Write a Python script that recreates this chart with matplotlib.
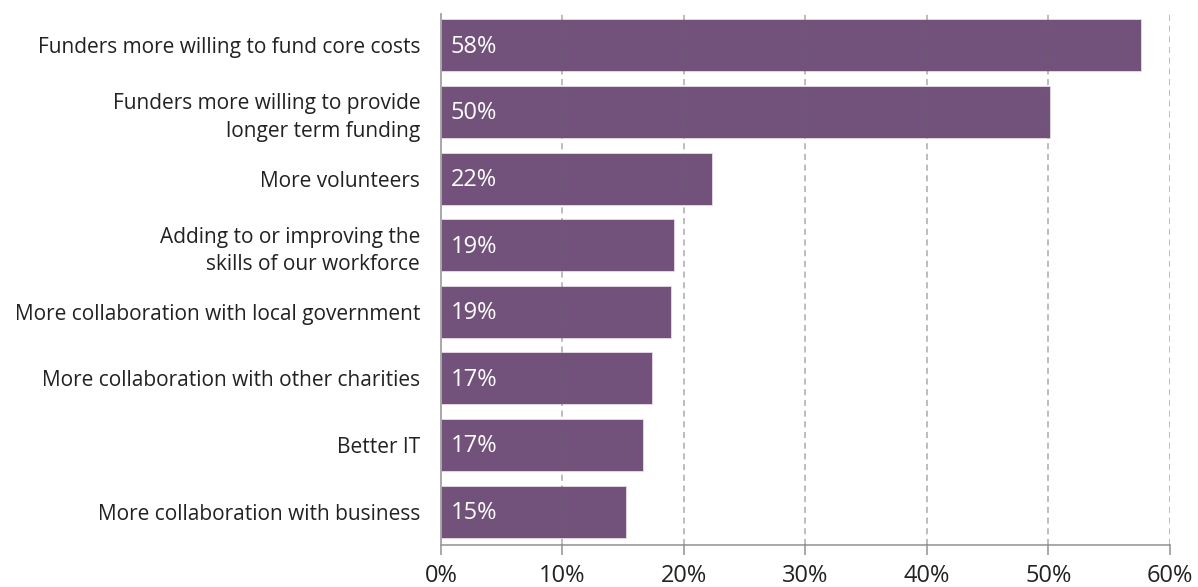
import numpy as np
import matplotlib
matplotlib.use('Agg')
import matplotlib.pyplot as plt

plt.rcParams['font.family'] = ['Open Sans', 'DejaVu Sans']

categories = ['Funders more willing to fund core costs',
              'Funders more willing to provide\nlonger term funding',
              'More volunteers',
              'Adding to or improving the\nskills of our workforce',
              'More collaboration with local government',
              'More collaboration with other charities',
              'Better IT',
              'More collaboration with business']
values = [57.6, 50.1, 22.3, 19.2, 18.9, 17.4, 16.6, 15.2]
xticks = [0, 10, 20, 30, 40, 50, 60]

bar_col = '#72517a'

fig = plt.figure(figsize=(11.98, 5.87), dpi=100)
ax = fig.add_axes([0.3681, 0.0716, 0.6085, 0.9045])

y = np.arange(len(categories))
ax.barh(y, values, height=0.78, color=bar_col, edgecolor='#e8dcea', linewidth=0.6, zorder=2)

# value labels inside the bars, near the axis
for yi, v in zip(y, values):
    ax.text(0.8, yi + 0.02, '%.0f%%' % v, color='white', fontsize=17, va='center', ha='left', zorder=3)

ax.set_xlim(0, 60)
ax.set_ylim(7.5, -0.47)
ax.set_xticks(xticks)
ax.set_xticklabels(['%d%%' % t for t in xticks], fontsize=17, color='#222222')
ax.set_yticks(y)
ax.set_yticklabels(categories, fontsize=15, color='#222222', linespacing=1.4)

ax.tick_params(axis='y', length=0, pad=15)
ax.tick_params(axis='x', length=7, width=1.2, color='#999999', pad=7)

for t in xticks[1:]:
    ax.axvline(t, color='#666666', alpha=0.55, linestyle=(0, (4, 3)), linewidth=1.1, zorder=3)

for s in ['top', 'right']:
    ax.spines[s].set_visible(False)
ax.spines['left'].set_color('#999999')
ax.spines['bottom'].set_color('#999999')
ax.spines['left'].set_linewidth(1.2)
ax.spines['bottom'].set_linewidth(1.2)

fig.savefig('out.png', dpi=100)
